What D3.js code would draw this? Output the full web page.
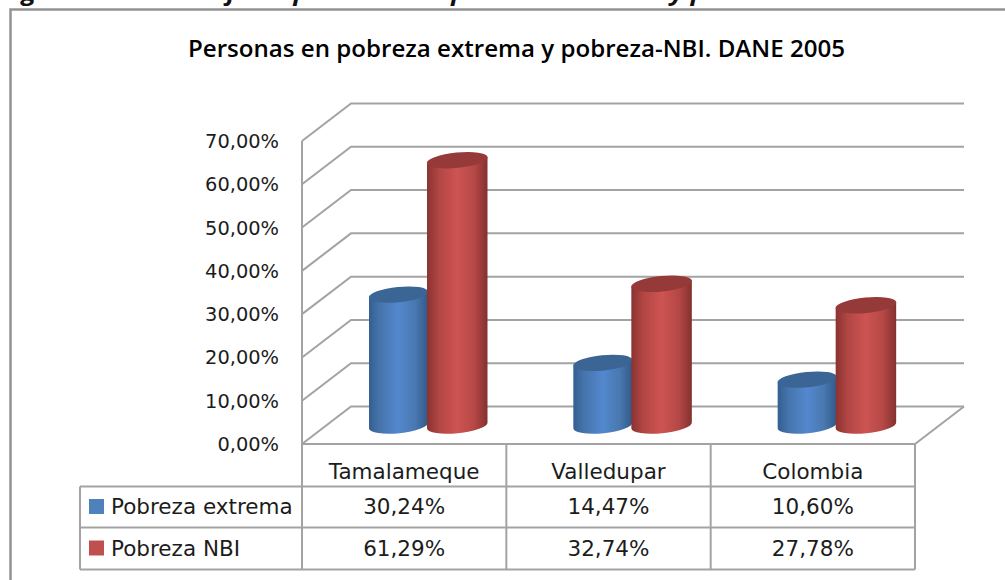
<!DOCTYPE html>
<html><head><meta charset="utf-8">
<script src="https://cdn.jsdelivr.net/npm/d3@7"></script>
<style>html,body{margin:0;background:#fff}svg{display:block}</style></head>
<body><svg id="c" width="1005" height="580"></svg>
<script>
const categories=["Tamalameque","Valledupar","Colombia"];
const seriesNames=["Pobreza extrema","Pobreza NBI"];
const extrema=[30.24,14.47,10.60];
const nbi=[61.29,32.74,27.78];
const tickValues=[0,10,20,30,40,50,60,70];
const tickLabels=["0,00%","10,00%","20,00%","30,00%","40,00%","50,00%","60,00%","70,00%"];
const extremaLabels=["30,24%","14,47%","10,60%"];
const nbiLabels=["61,29%","32,74%","27,78%"];
const title="Personas en pobreza extrema y pobreza-NBI. DANE 2005";
const caption="Figura 4. Porcentaje de personas en pobreza extrema y pobreza NBI. 2005";

const svg=d3.select("#c");
const grid="#a3a3a3", font="'DejaVu Sans',sans-serif", titleFont="'Open Sans',sans-serif";
const dx=49, dy=-37.5;
const y=d3.scaleLinear().domain([0,70]).range([444,141]);
const x=d3.scaleBand().domain(categories).range([302,915]);
const defs=svg.append("defs");
function grad(id,stops){const g=defs.append("linearGradient").attr("id",id);
 stops.forEach(s=>g.append("stop").attr("offset",s[0]).attr("stop-color",s[1]));}
grad("gb",[[0,"#335f92"],[.18,"#4674ab"],[.5,"#5388cf"],[.78,"#4a78b0"],[1,"#2f5a8b"]]);
grad("gr",[[0,"#8a3331"],[.2,"#b24644"],[.5,"#cd5452"],[.78,"#b54846"],[1,"#843130"]]);

svg.append("text").text(caption).attr("x",0).attr("y",-0.5).attr("font-family",titleFont)
 .attr("font-size",23).attr("font-weight",700).attr("font-style","italic").attr("fill","#111")
 .attr("textLength",915).attr("lengthAdjust","spacingAndGlyphs");
svg.append("path").attr("d","M10.5,580V9.5H1005").attr("fill","none").attr("stroke","#929292").attr("stroke-width",2.5);
svg.append("text").text(title).attr("x",516.5).attr("y",57).attr("text-anchor","middle").attr("font-family",titleFont)
 .attr("font-size",23).attr("font-weight",600).attr("fill","#000").attr("textLength",657).attr("lengthAdjust","spacingAndGlyphs");

const g=svg.append("g").attr("fill","none").attr("stroke",grid).attr("stroke-width",2);
tickValues.forEach(v=>{
 g.append("path").attr("d",`M302,${y(v)}L${302+dx},${y(v)+dy}H964`);
});
g.append("path").attr("d",`M302,${y(0)}V${y(70)}`);
g.append("path").attr("d",`M964,${y(0)+dy}L915,${y(0)}H302`);
const tl=svg.append("g").attr("font-family",font).attr("font-size",19.4).attr("fill","#1c1c1c").attr("text-anchor","end");
tickValues.forEach((v,i)=>tl.append("text").attr("x",279).attr("y",y(v)+7).text(tickLabels[i]));

// cylinders
const widths=[59,60.5], lefts=[67,125], baseOffset=-18.5, ry=7.7, tilt=3;
function cyl(cat,val,i){
 const bw=widths[i], rx=bw/2, L=x(cat)+lefts[i], cx=L+rx, base=y(0)+baseOffset, top=base-(y(0)-y(val));
 const col=i? "r":"b";
 svg.append("path").attr("d",`M${L},${top+tilt}L${L+bw},${top-tilt}V${base-tilt}A${rx},${ry} -5.7 0 1 ${L},${base+tilt}Z`)
  .attr("fill",`url(#g${col})`);
 svg.append("ellipse").attr("cx",cx).attr("cy",top).attr("rx",rx+.3).attr("ry",ry)
  .attr("transform",`rotate(-5.7 ${cx} ${top})`).attr("fill",i?"#953a38":"#3a6595");
}
categories.forEach((c,k)=>{cyl(c,extrema[k],0);cyl(c,nbi[k],1);});

// data table
const rows=[444,486.5,527.5,569.5];
const t=svg.append("g").attr("fill","none").attr("stroke",grid).attr("stroke-width",2);
x.domain().concat(["end"]).forEach((c,i)=>{const X=c==="end"?x.range()[1]:x(c);
 t.append("path").attr("d",`M${X},${rows[0]}V${rows[3]}`);});
t.append("path").attr("d",`M80,${rows[1]}H915M80,${rows[2]}H915M80,${rows[3]}H915M80,${rows[1]}V${rows[3]}`);
const tt=svg.append("g").attr("font-family",font).attr("font-size",21.5).attr("fill","#1c1c1c");
const rowsData=[extremaLabels,nbiLabels];
categories.forEach((c,k)=>{
 const X=x(c)+x.bandwidth()/2;
 tt.append("text").attr("x",X).attr("y",478.5).attr("text-anchor","middle").text(c);
 rowsData.forEach((r,j)=>tt.append("text").attr("x",X).attr("y",[514,555.5][j]).attr("text-anchor","middle").text(r[k]));
});
seriesNames.forEach((n,j)=>{
 const yy=[514,555.5][j];
 svg.append("rect").attr("x",89).attr("y",yy-15).attr("width",15).attr("height",15).attr("fill",j?"#c0504d":"#4f81bd");
 tt.append("text").attr("x",111).attr("y",yy).text(n);
});
</script></body></html>
